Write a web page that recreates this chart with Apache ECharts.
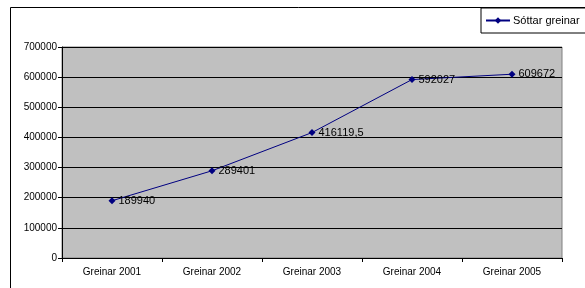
<!DOCTYPE html>
<html style="height: 100%">
<head>
    <meta charset="utf-8">
</head>
<body style="height: 100%; margin: 0; background: #fff">
<div id="container" style="width: 585px; height: 288px"></div>
<script src="https://cdn.jsdelivr.net/npm/echarts@6/dist/echarts.min.js"></script>
<script type="text/javascript">
    var categories = ['Greinar 2001', 'Greinar 2002', 'Greinar 2003', 'Greinar 2004', 'Greinar 2005'];
    var values = [189940, 289401, 416119.5, 592027, 609672];
    var seriesName = 'Sóttar greinar';

    var myChart = echarts.init(document.getElementById('container'), null, {renderer: 'canvas'});
    var font = 'Liberation Sans, Arial, sans-serif';

    var option = {
        animation: false,
        textStyle: {fontFamily: font},
        graphic: [{
            type: 'rect',
            shape: {x: 10.5, y: 7.5, width: 600, height: 300},
            style: {fill: 'none', stroke: '#000', lineWidth: 1},
            z: -10
        }],
        legend: {
            data: [seriesName],
            left: 481,
            top: 8,
            padding: [7, 6, 7, 4],
            borderColor: '#000',
            borderWidth: 1,
            backgroundColor: '#fff',
            itemWidth: 24,
            itemHeight: 8,
            itemGap: 4,
            textStyle: {fontSize: 11, color: '#000', fontFamily: font, padding: [0, 0, 0, -2]}
        },
        grid: {left: 62, right: 23, top: 47, bottom: 30, show: true, backgroundColor: '#c0c0c0', borderColor: '#808080', borderWidth: 1},
        xAxis: {
            type: 'category',
            data: categories,
            boundaryGap: true,
            axisLine: {lineStyle: {color: '#000'}},
            axisTick: {show: true, length: 4, lineStyle: {color: '#000'}},
            axisLabel: {fontSize: 10, color: '#000', margin: 9, fontFamily: font}
        },
        yAxis: {
            type: 'value',
            min: 0,
            max: 700000,
            interval: 100000,
            axisLine: {show: true, lineStyle: {color: '#000'}},
            axisTick: {show: true, length: 4, lineStyle: {color: '#000'}},
            axisLabel: {fontSize: 10, color: '#000', margin: 5, fontFamily: font,
                formatter: function (v) { return String(v); }},
            splitLine: {show: true, lineStyle: {color: '#000', width: 1}}
        },
        series: [{
            name: seriesName,
            type: 'line',
            data: values,
            symbol: 'diamond',
            symbolSize: 7,
            color: '#000080',
            lineStyle: {color: '#000080', width: 1},
            itemStyle: {color: '#000080'},
            label: {
                show: true,
                position: 'right',
                distance: 3,
                fontSize: 11,
                color: '#000',
                fontFamily: font,
                formatter: function (p) { return String(p.value).replace('.', ','); }
            }
        }]
    };

    myChart.setOption(option);
</script>
</body>
</html>
